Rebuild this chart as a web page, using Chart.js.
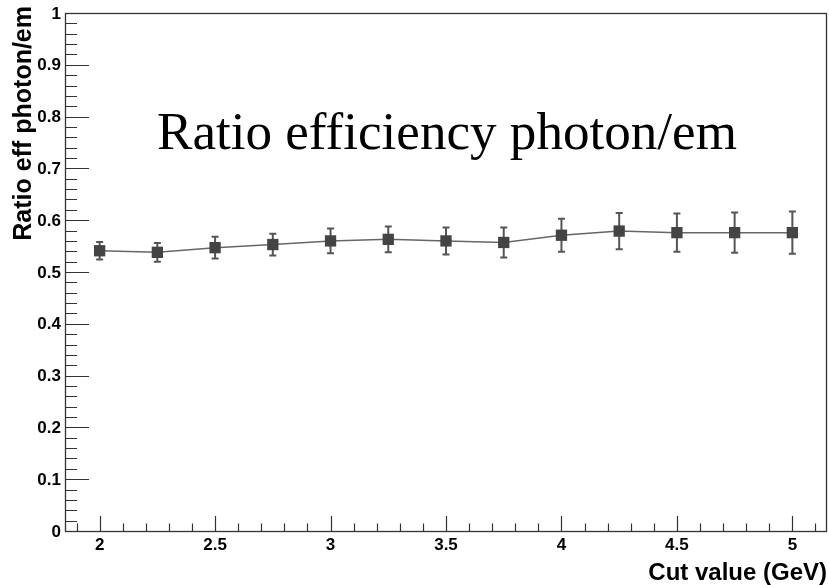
<!DOCTYPE html>
<html>
<head>
<meta charset="utf-8">
<script src="https://cdn.jsdelivr.net/npm/chart.js@4.4.1/dist/chart.umd.min.js"></script>
<style>
  html, body { margin: 0; padding: 0; background: #ffffff; }
  #wrap { width: 829px; height: 585px; }
</style>
</head>
<body>
<div id="wrap"><canvas id="c" width="829" height="585"></canvas></div>
<script>
// ---- Data ----
const cutValues   = [2, 2.25, 2.5, 2.75, 3, 3.25, 3.5, 3.75, 4, 4.25, 4.5, 4.75, 5];
const ratioValues = [0.541, 0.538, 0.547, 0.553, 0.560, 0.563, 0.560, 0.557, 0.571, 0.579, 0.576, 0.576, 0.576];
const ratioErrors = [0.017, 0.018, 0.021, 0.021, 0.024, 0.025, 0.026, 0.029, 0.032, 0.035, 0.037, 0.039, 0.041];
const xTickValues = [2, 2.5, 3, 3.5, 4, 4.5, 5];
const xTickLabels = ['2', '2.5', '3', '3.5', '4', '4.5', '5'];
const yTickValues = [0, 0.1, 0.2, 0.3, 0.4, 0.5, 0.6, 0.7, 0.8, 0.9, 1];
const yTickLabels = ['0', '0.1', '0.2', '0.3', '0.4', '0.5', '0.6', '0.7', '0.8', '0.9', '1'];
const xMinorStep = 0.1;
const yMinorStep = 0.02;
const titleText  = 'Ratio efficiency photon/em';
const xTitleText = 'Cut value (GeV)';
const yTitleText = 'Ratio eff photon/em';

const points = cutValues.map((x, i) => ({ x: x, y: ratioValues[i] }));

const errorBarPlugin = {
  id: 'errorBars',
  beforeDatasetsDraw(chart) {
    const ctx = chart.ctx;
    const xs = chart.scales.x, ys = chart.scales.y;
    ctx.save();
    ctx.strokeStyle = '#555555';
    ctx.lineWidth = 2;
    cutValues.forEach((x, i) => {
      const px = xs.getPixelForValue(x);
      const top = ys.getPixelForValue(ratioValues[i] + ratioErrors[i]);
      const bot = ys.getPixelForValue(ratioValues[i] - ratioErrors[i]);
      ctx.beginPath();
      ctx.moveTo(px, top); ctx.lineTo(px, bot);
      ctx.moveTo(px - 3.5, top); ctx.lineTo(px + 3.5, top);
      ctx.moveTo(px - 3.5, bot); ctx.lineTo(px + 3.5, bot);
      ctx.stroke();
    });
    ctx.restore();
  }
};

const framePlugin = {
  id: 'rootFrame',
  afterDraw(chart) {
    const ctx = chart.ctx;
    const a = chart.chartArea;
    const xs = chart.scales.x, ys = chart.scales.y;
    ctx.save();
    // frame
    ctx.strokeStyle = '#333333';
    ctx.lineWidth = 1.3;
    ctx.strokeRect(a.left + 0.5, a.top + 0.5, a.right - a.left - 1, a.bottom - a.top);
    ctx.lineWidth = 1.2;
    ctx.beginPath();
    // y major + minor ticks (inside, pointing right)
    const yMajorLen = 24, yMinorLen = 12;
    for (let v = 0; v <= 1.0001; v += yMinorStep) {
      const py = Math.round(ys.getPixelForValue(v)) + 0.5;
      const isMajor = Math.abs(v * 10 - Math.round(v * 10)) < 1e-6;
      ctx.moveTo(a.left, py);
      ctx.lineTo(a.left + (isMajor ? yMajorLen : yMinorLen), py);
    }
    // x major + minor ticks (inside, pointing up)
    const xMajorLen = 15, xMinorLen = 7.5;
    const xStart = Math.ceil(xs.min / xMinorStep) * xMinorStep;
    for (let v = xStart; v <= xs.max + 1e-9; v += xMinorStep) {
      const px = Math.round(xs.getPixelForValue(v)) + 0.5;
      const isMajor = Math.abs(v * 2 - Math.round(v * 2)) < 1e-6;
      ctx.moveTo(px, a.bottom);
      ctx.lineTo(px, a.bottom - (isMajor ? xMajorLen : xMinorLen));
    }
    ctx.stroke();

    // tick labels
    ctx.fillStyle = '#000000';
    ctx.font = 'bold 17px "Liberation Sans", Arial, sans-serif';
    ctx.textAlign = 'right';
    ctx.textBaseline = 'middle';
    yTickValues.forEach((v, i) => {
      ctx.fillText(yTickLabels[i], a.left - 4, ys.getPixelForValue(v) + 1);
    });
    ctx.textAlign = 'center';
    ctx.textBaseline = 'alphabetic';
    xTickValues.forEach((v, i) => {
      ctx.fillText(xTickLabels[i], xs.getPixelForValue(v), a.bottom + 19);
    });

    // axis titles
    ctx.font = 'bold 24px "Liberation Sans", Arial, sans-serif';
    ctx.textAlign = 'right';
    ctx.fillText(xTitleText, a.right, 580);
    ctx.save();
    ctx.translate(31, 6);
    ctx.rotate(-Math.PI / 2);
    ctx.textAlign = 'right';
    ctx.font = 'bold 25px "Liberation Sans", Arial, sans-serif';
    ctx.fillText(yTitleText, 0, 0);
    ctx.restore();

    // main title (inside the frame)
    const targetW = 580;
    ctx.font = '48px "Liberation Serif", "DejaVu Serif", serif';
    const w = ctx.measureText(titleText).width;
    const size = 48 * targetW / w;
    ctx.font = size.toFixed(2) + 'px "Liberation Serif", "DejaVu Serif", serif';
    ctx.textAlign = 'left';
    ctx.fillText(titleText, 157, 149);
    ctx.restore();
  }
};

new Chart(document.getElementById('c'), {
  type: 'line',
  data: {
    datasets: [{
      data: points,
      borderColor: '#666666',
      borderWidth: 1.5,
      backgroundColor: '#444444',
      pointStyle: 'rect',
      pointRadius: 8,
      pointBorderWidth: 0,
      pointBackgroundColor: '#444444',
      tension: 0,
      fill: false
    }]
  },
  options: {
    responsive: false,
    animation: false,
    devicePixelRatio: 1,
    layout: { autoPadding: false, padding: { left: 65, right: 2, top: 13, bottom: 54 } },
    plugins: { legend: { display: false }, tooltip: { enabled: false }, title: { display: false } },
    scales: {
      x: { type: 'linear', min: 1.85, max: 5.15, display: false },
      y: { type: 'linear', min: 0, max: 1, display: false }
    }
  },
  plugins: [errorBarPlugin, framePlugin]
});
</script>
</body>
</html>
